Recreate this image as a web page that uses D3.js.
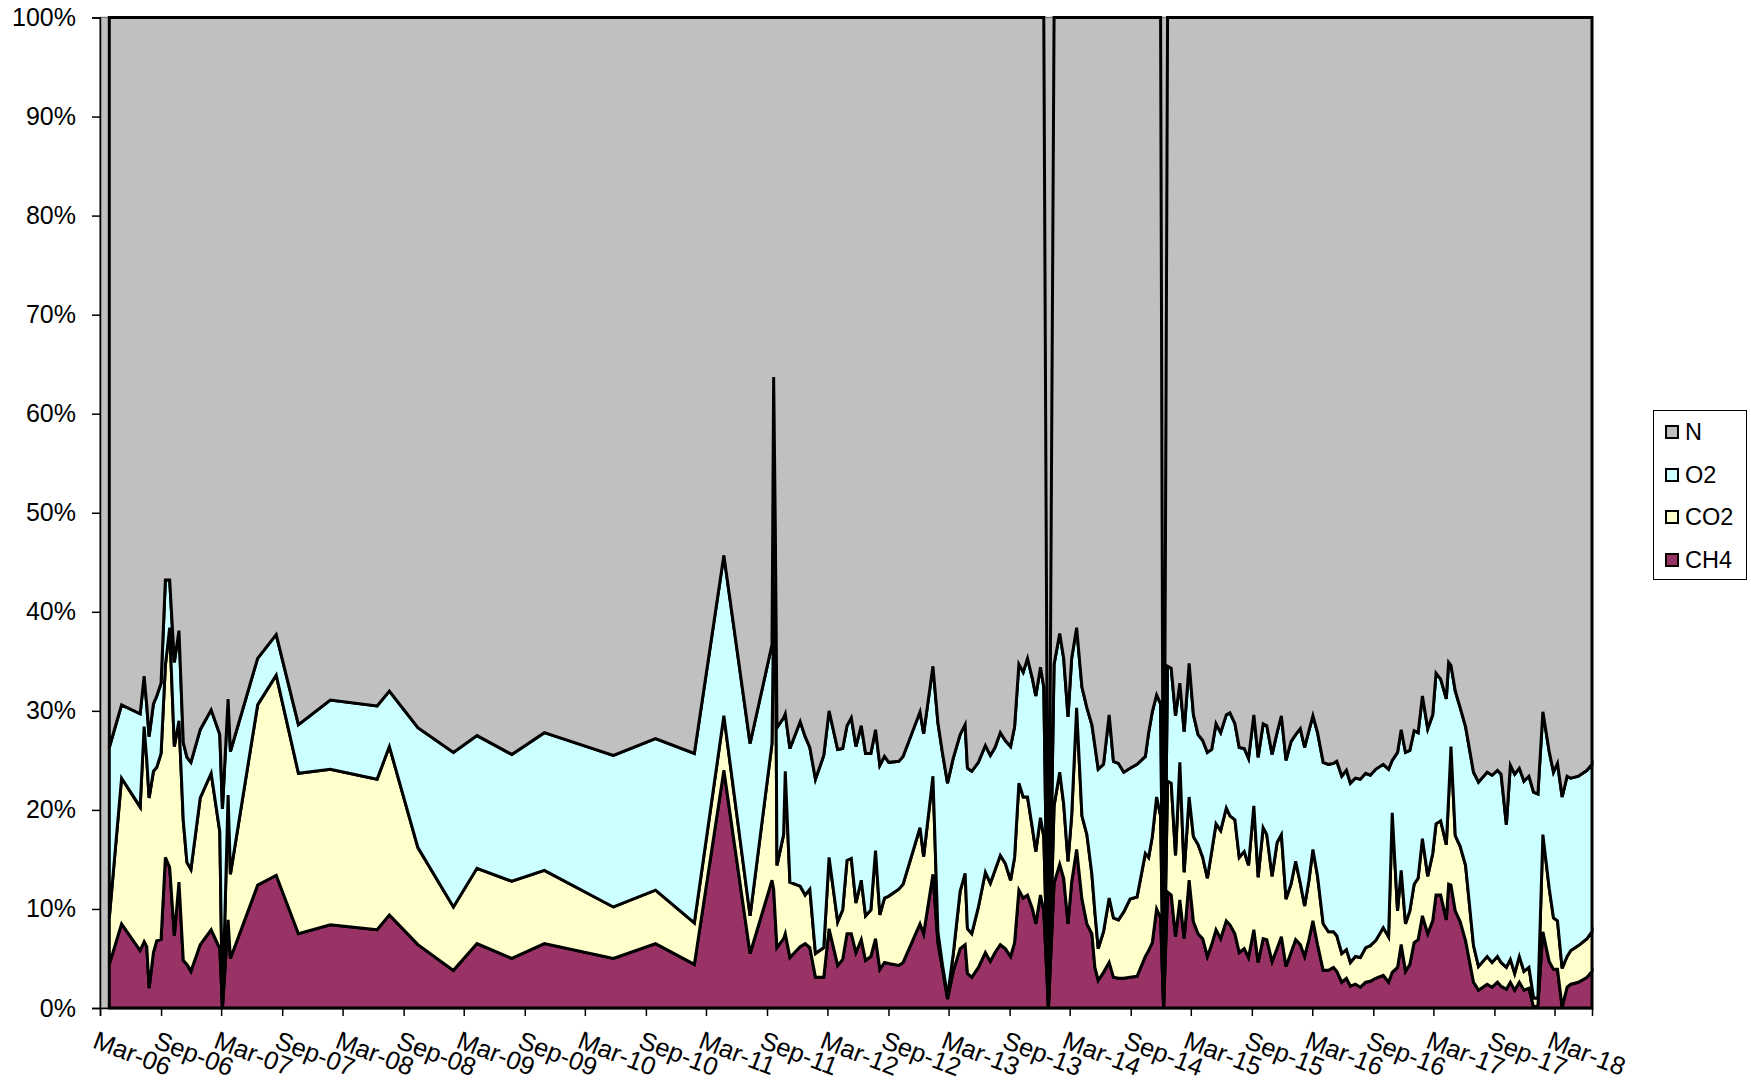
<!DOCTYPE html>
<html><head><meta charset="utf-8">
<script src="https://cdn.jsdelivr.net/npm/d3@7"></script>
<style>
body{margin:0;background:#fff}
svg{display:block}
text{font-family:"Liberation Sans",Arial,sans-serif;fill:#000}
</style>
</head><body>
<svg id="chart" width="1751" height="1082"></svg>
<script>
const dates = [
"2006-03-29","2006-05-05","2006-06-30","2006-07-12","2006-07-20","2006-07-27","2006-08-09","2006-08-19","2006-09-01","2006-09-14",
"2006-09-27","2006-10-11","2006-10-25","2006-11-07","2006-11-18","2006-11-30","2006-12-28","2007-01-30","2007-02-25","2007-03-05",
"2007-03-22","2007-03-29","2007-06-19","2007-08-14","2007-10-20","2008-01-24","2008-06-13","2008-07-20","2008-10-14","2009-01-29",
"2009-04-10","2009-07-24","2009-10-30","2010-05-26","2010-09-30","2011-01-25","2011-04-24","2011-07-12","2011-09-16","2011-09-21",
"2011-09-26","2011-10-01","2011-10-21","2011-10-26","2011-11-09","2011-12-10","2011-12-25","2012-01-08","2012-01-25","2012-02-19",
"2012-03-06","2012-04-01","2012-04-16","2012-04-29","2012-05-12","2012-05-26","2012-06-11","2012-06-24","2012-07-10","2012-07-24",
"2012-08-06","2012-08-20","2012-09-02","2012-10-02","2012-10-15","2012-12-05","2012-12-16","2013-01-13","2013-01-28","2013-02-11",
"2013-02-26","2013-03-15","2013-04-05","2013-04-20","2013-04-27","2013-05-10","2013-05-30","2013-06-20","2013-07-05","2013-07-19",
"2013-08-04","2013-08-19","2013-09-04","2013-09-16","2013-09-29","2013-10-12","2013-10-25","2013-11-09","2013-11-19","2013-12-03",
"2013-12-13","2013-12-27","2014-01-13","2014-01-30","2014-02-11","2014-02-24","2014-03-07","2014-03-22","2014-04-07","2014-04-22",
"2014-05-07","2014-05-16","2014-05-26","2014-06-11","2014-06-28","2014-07-11","2014-07-26","2014-08-11","2014-08-30","2014-09-20",
"2014-10-15","2014-10-25","2014-11-05","2014-11-18","2014-11-30","2014-12-09","2014-12-21","2015-01-01","2015-01-14","2015-01-27",
"2015-02-09","2015-02-24","2015-03-09","2015-03-23","2015-04-06","2015-04-20","2015-05-03","2015-05-16","2015-05-30","2015-06-16",
"2015-06-27","2015-07-12","2015-07-25","2015-08-09","2015-08-22","2015-09-07","2015-09-20","2015-10-05","2015-10-16","2015-11-01",
"2015-11-16","2015-11-29","2015-12-13","2015-12-28","2016-01-11","2016-01-25","2016-02-07","2016-02-20","2016-03-03","2016-03-17",
"2016-04-03","2016-04-19","2016-05-04","2016-05-14","2016-05-29","2016-06-12","2016-06-24","2016-07-09","2016-07-24","2016-08-09",
"2016-08-23","2016-09-08","2016-10-01","2016-10-17","2016-10-28","2016-11-13","2016-11-24","2016-12-07","2016-12-20","2017-01-02",
"2017-01-14","2017-01-27","2017-02-12","2017-02-27","2017-03-09","2017-03-23","2017-04-09","2017-04-16","2017-04-23","2017-05-06",
"2017-05-21","2017-06-06","2017-06-30","2017-07-15","2017-08-10","2017-08-25","2017-09-10","2017-09-21","2017-10-07","2017-10-19",
"2017-11-01","2017-11-15","2017-11-29","2017-12-14","2017-12-28","2018-01-10","2018-01-25","2018-02-13","2018-02-26","2018-03-10",
"2018-03-24","2018-04-08","2018-04-19","2018-05-12","2018-06-07","2018-06-22"
];

const CH4 = [
4.4,8.5,5.8,6.7,6.2,2.0,5.6,6.8,6.9,15.2,
14.2,7.3,12.7,4.8,4.4,3.7,6.4,7.9,6.0,0,
8.9,5.0,12.4,13.4,7.5,8.4,7.9,9.4,6.4,3.8,
6.5,5.0,6.5,5.0,6.5,4.4,24.0,5.5,12.9,12.0,
9.0,6.1,7.0,7.5,5.1,6.2,6.5,6.1,3.1,3.1,
8.0,4.3,4.9,7.5,7.5,5.6,6.9,4.8,5.2,7.0,
3.9,4.6,4.5,4.3,4.6,8.5,7.5,13.5,6.6,3.9,
0.9,3.7,6.0,6.4,3.5,3.1,4.1,5.6,4.7,5.6,
6.4,6.0,5.2,6.6,11.9,11.1,11.4,10.0,8.5,11.4,
9.8,0,12.6,14.5,13.1,8.5,12.7,16.0,11.0,8.5,
7.5,4.1,2.8,3.6,4.6,3.1,3.0,3.0,3.1,3.2,
5.2,5.8,6.6,10.0,9.1,0,11.7,11.4,7.2,10.9,
7.0,12.9,8.7,7.5,7.0,5.2,6.4,7.9,7.0,8.8,
8.4,7.5,5.6,6.0,5.1,7.9,4.6,7.0,6.9,4.7,
6.0,7.2,4.2,5.6,6.9,6.4,5.2,6.9,8.8,6.4,
3.8,3.8,4.1,3.7,2.6,3.0,2.2,2.4,2.1,2.6,
2.7,3.0,3.3,2.6,3.6,4.1,6.4,3.7,4.4,6.6,
6.9,9.3,7.5,8.8,11.4,11.4,8.9,12.5,12.4,9.8,
8.7,6.8,2.6,1.8,2.4,2.1,2.6,2.2,1.9,2.6,
1.8,2.6,1.8,2.0,0.1,0.3,7.7,4.7,3.9,3.9,
0.1,2.1,2.4,2.6,3.1,3.7
];

const CO2 = [
4.7,14.7,14.5,21.7,18.8,19.2,18.3,17.5,18.8,19.4,
24.2,19.1,16.3,14.1,10.3,10.3,14.8,15.8,11.8,0,
12.6,8.5,18.2,20.2,16.2,15.7,15.2,17.0,9.8,6.4,
7.6,7.8,7.4,5.2,5.4,4.2,5.5,3.8,13.8,28.0,
34.0,8.3,10.5,16.4,7.6,6.1,4.9,5.9,2.4,3.0,
7.2,4.4,5.0,7.4,7.6,5.0,6.0,4.5,4.7,8.9,
5.5,6.5,6.8,7.7,7.9,9.7,7.8,9.9,1.1,0.4,
0.3,1.7,5.8,7.2,4.5,4.4,6.1,8.1,7.9,8.3,
9.0,8.6,7.7,8.6,10.8,10.2,9.9,8.1,7.3,7.8,
7.5,0,7.8,9.3,7.5,6.3,6.7,14.3,8.4,9.0,
6.0,5.6,3.2,4.1,6.5,6.0,5.9,6.7,7.9,8.0,
10.4,9.4,10.7,11.3,10.3,0,11.2,11.3,8.2,13.9,
6.7,8.4,8.6,9.0,8.2,7.9,9.4,10.7,10.9,11.4,
11.0,11.5,9.6,9.8,9.3,12.5,8.6,11.2,10.6,8.6,
10.7,10.3,6.8,6.9,7.9,6.2,5.1,6.0,7.2,6.9,
4.7,3.9,3.6,3.6,2.9,2.9,2.4,2.8,3.0,3.5,
3.6,3.8,4.8,4.6,16.1,5.7,7.5,4.8,5.4,5.9,
6.2,7.8,5.8,6.8,7.2,7.5,7.6,8.8,14.0,7.6,
7.6,7.6,3.7,2.4,2.8,2.5,2.6,2.4,2.2,2.3,
1.7,2.6,1.9,2.1,0.9,0.7,9.8,7.4,5.2,4.9,
3.9,3.1,3.4,3.7,3.9,4.0
];

const O2 = [
17.2,7.4,9.4,5.1,5.5,6.2,6.8,7.2,7.1,8.6,
4.8,8.5,9.1,7.9,10.6,10.8,6.9,6.4,9.8,20.1,
9.7,12.4,4.7,4.1,4.9,7.0,7.4,5.6,12.1,15.6,
13.4,12.8,13.9,15.3,15.3,17.1,16.2,17.4,10.0,23.7,
5.5,13.9,11.8,5.8,13.5,16.6,16.0,14.3,17.6,19.4,
14.8,17.4,16.3,13.6,14.2,15.8,15.6,16.4,15.8,12.2,
15.1,14.3,13.5,12.9,12.9,11.7,12.4,11.1,21.1,21.4,
21.5,19.8,15.8,15.0,16.2,16.4,14.6,12.8,12.9,12.4,
12.4,12.4,13.5,13.2,12.0,12.6,14.0,15.1,15.7,15.2,
15.1,0,14.3,14.0,14.7,14.6,15.9,8.1,13.0,12.8,
15.1,16.8,18.1,16.9,18.5,15.8,15.8,14.1,13.2,13.4,
9.8,12.6,12.6,10.3,11.3,0,11.6,11.6,14.1,8.0,
14.2,13.5,12.3,11.1,11.8,12.7,10.3,10.1,9.9,9.4,
10.4,9.7,11.1,10.4,10.8,9.2,12.1,10.5,11.0,12.3,
11.1,12.0,14.0,14.4,12.8,15.6,16.0,15.1,13.5,14.5,
16.3,16.9,17.0,17.6,17.9,18.1,18.1,18.0,18.0,17.6,
17.2,17.3,16.5,16.9,5.3,16.0,14.2,17.3,16.2,15.5,
14.7,14.4,14.9,14.0,15.2,14.3,14.7,13.6,8.2,14.6,
14.0,14.0,17.5,18.6,18.6,18.9,18.8,19.0,14.4,19.6,
20.1,19.0,19.2,19.3,20.8,20.6,12.4,13.8,14.7,15.9,
17.3,18.2,17.4,17.1,17.0,16.9
];

const N = [
73.7,69.4,70.3,66.5,69.5,72.6,69.3,68.5,67.2,56.8,
56.8,65.1,61.9,73.2,74.7,75.2,71.9,69.9,72.4,79.9,
68.8,74.1,64.7,62.3,71.4,68.9,69.5,68.0,71.7,74.2,
72.5,74.4,72.2,74.5,72.8,74.3,54.3,73.3,63.3,36.3,
51.5,71.7,70.7,70.3,73.8,71.1,72.6,73.7,76.9,74.5,
70.0,73.9,73.8,71.5,70.7,73.6,71.5,74.3,74.3,71.9,
75.5,74.6,75.2,75.1,74.6,70.1,72.3,65.5,71.2,74.3,
77.3,74.8,72.4,71.4,75.8,76.1,75.2,73.5,74.5,73.7,
72.2,73.0,73.6,71.6,65.3,66.1,64.7,66.8,68.5,65.6,
67.6,0,65.3,62.2,64.7,70.6,64.7,61.6,67.6,69.7,
71.4,73.5,75.9,75.4,70.4,75.1,75.3,76.2,75.8,75.4,
74.6,72.2,70.1,68.4,69.3,0,65.5,65.7,70.5,67.2,
72.1,65.2,70.4,72.4,73.0,74.2,73.9,71.3,72.2,70.4,
70.2,71.3,73.7,73.8,74.8,70.4,74.7,71.3,71.5,74.4,
72.2,70.5,75.0,73.1,72.4,71.8,73.7,72.0,70.5,72.2,
75.2,75.4,75.3,75.1,76.6,76.0,77.3,76.8,76.9,76.3,
76.5,75.9,75.4,75.9,75.0,74.2,71.9,74.2,74.0,72.0,
72.2,68.5,71.8,70.4,66.2,66.8,68.8,65.1,65.4,68.0,
69.7,71.6,76.2,77.2,76.2,76.5,76.0,76.4,81.5,75.5,
76.4,75.8,77.1,76.6,78.2,78.4,70.1,74.1,76.2,75.3,
78.7,76.6,76.8,76.6,76.0,75.4
];

const seriesNames = ["CH4", "CO2", "O2", "N"];
const seriesColors = ["#993366", "#FFFFCC", "#CCFFFF", "#C0C0C0"];
const xTickLabels = ["Mar-06","Sep-06","Mar-07","Sep-07","Mar-08","Sep-08","Mar-09","Sep-09","Mar-10","Sep-10",
  "Mar-11","Sep-11","Mar-12","Sep-12","Mar-13","Sep-13","Mar-14","Sep-14","Mar-15","Sep-15",
  "Mar-16","Sep-16","Mar-17","Sep-17","Mar-18"];
const yTickValues = [0,0.1,0.2,0.3,0.4,0.5,0.6,0.7,0.8,0.9,1];

const svg = d3.select("#chart");
const plot = {left:100, top:17.5, right:1592, bottom:1008};

const parseDate = d3.utcParse("%Y-%m-%d");
const parseTick = d3.utcParse("%b-%y");
const seriesData = {CH4, CO2, O2, N};
const rows = dates.map((d, i) => {
  const r = {date: parseDate(d)};
  seriesNames.forEach(k => r[k] = seriesData[k][i]);
  return r;
});
const tickDates = xTickLabels.map(parseTick);

const x = d3.scaleUtc()
  .domain([tickDates[0], rows[rows.length - 1].date])
  .range([plot.left, plot.right]);
const y = d3.scaleLinear().domain([0, 1]).range([plot.bottom, plot.top]);

const stacked = d3.stack().keys(seriesNames).offset(d3.stackOffsetExpand)(rows);

// plot area background
svg.append("rect")
  .attr("x", plot.left).attr("y", plot.top)
  .attr("width", plot.right - plot.left).attr("height", plot.bottom - plot.top)
  .attr("fill", "#C0C0C0").attr("stroke", "#808080").attr("stroke-width", 1.5);

const area = d3.area()
  .x(d => x(d.data.date))
  .y0(d => y(d[0]))
  .y1(d => y(d[1]));

svg.append("g").selectAll("path")
  .data(stacked)
  .join("path")
  .attr("d", area)
  .attr("fill", (d, i) => seriesColors[i])
  .attr("stroke", "#000")
  .attr("stroke-width", 3)
  .attr("stroke-linejoin", "miter");

// Y axis
const yAxis = d3.axisLeft(y).tickValues(yTickValues).tickFormat(d3.format(".0%")).tickSize(8).tickPadding(16);
const gy = svg.append("g").attr("transform", `translate(${plot.left},0)`).call(yAxis);
gy.select(".domain").attr("stroke", "#000").attr("stroke-width", 1.5);
gy.selectAll(".tick line").attr("stroke", "#000").attr("stroke-width", 1.5);
gy.selectAll("text").attr("font-size", 25).attr("font-family", '"Liberation Sans", Arial, sans-serif');

// X axis
const xAxis = d3.axisBottom(x).tickValues(tickDates).tickFormat(() => "").tickSize(8);
const gx = svg.append("g").attr("transform", `translate(0,${plot.bottom})`).call(xAxis);
gx.select(".domain").attr("stroke", "#000").attr("stroke-width", 1.5);
gx.selectAll(".tick line").attr("stroke", "#000").attr("stroke-width", 1.5);

svg.append("g").selectAll("text")
  .data(tickDates)
  .join("text")
  .attr("transform", d => `translate(${x(d) - 2},${plot.bottom + 22}) rotate(21)`)
  .attr("dy", "0.72em")
  .attr("font-size", 25.5)
  .attr("text-anchor", "start")
  .text((d, i) => xTickLabels[i]);

// Legend
const legendOrder = ["N", "O2", "CO2", "CH4"];
const lg = svg.append("g");
lg.append("rect").attr("x", 1653.5).attr("y", 410.5).attr("width", 93).attr("height", 169)
  .attr("fill", "#fff").attr("stroke", "#000").attr("stroke-width", 1);
const legY = [432, 475, 517, 560];
legendOrder.forEach((k, i) => {
  const ci = seriesNames.indexOf(k);
  lg.append("rect").attr("x", 1666).attr("y", legY[i] - 6).attr("width", 12).attr("height", 12)
    .attr("fill", seriesColors[ci]).attr("stroke", "#000").attr("stroke-width", 2);
  lg.append("text").attr("x", 1685).attr("y", legY[i]).attr("dy", "0.36em")
    .attr("font-size", 23.5).text(k);
});
</script>
</body></html>
